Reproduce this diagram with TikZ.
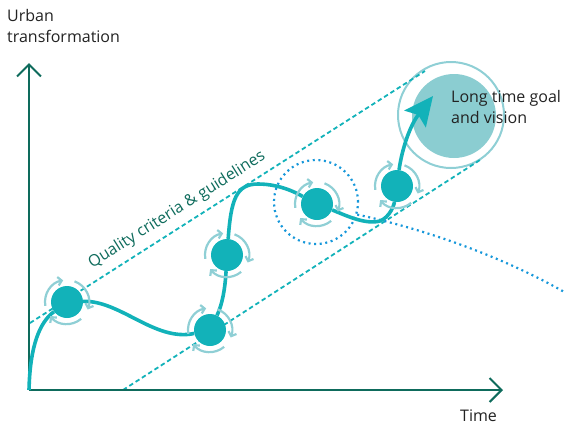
\documentclass[tikz,border=0pt]{standalone}
\usepackage{fontspec}
\setmainfont{Open Sans}
\usetikzlibrary{arrows.meta,calc}
\definecolor{axisgreen}{HTML}{0E6B5C}
\definecolor{tealmain}{HTML}{12B2B9}
\definecolor{teallight}{HTML}{8FCFD5}
\definecolor{goalfill}{HTML}{8BCDD1}
\definecolor{dotblue}{HTML}{1697DA}
\definecolor{txtgrey}{HTML}{222222}
\newcommand\cycarrows[1]{%
  \foreach \a in {190,70,-50}{%
    \draw[cycarc] ($(#1)+(-\a:22)$) arc[start angle=-\a, end angle=-\a+90, radius=22];}}
\begin{document}
\begin{tikzpicture}[x=1pt,y=-1pt,
  axisline/.style={draw=axisgreen,line width=2pt,-{Straight Barb[length=12pt,width=24pt]}},
  mainpath/.style={draw=tealmain,line width=3.6pt},
  cycarc/.style={draw=teallight,line width=2.2pt,-{Straight Barb[length=3.8pt,width=8.5pt]}},
  bandline/.style={draw=tealmain,line width=1.8pt,dash pattern=on 4.5pt off 3pt},
  dotline/.style={draw=dotblue,line width=2.2pt,dash pattern=on 2pt off 3.6pt},
  dotnode/.style={circle,fill=tealmain,minimum size=32pt,inner sep=0pt},
  lbl/.style={font=\fontsize{16}{21}\selectfont,text=txtgrey,inner sep=0pt,align=left}]
\useasboundingbox (0,0) rectangle (566,424);
% coordinates
\coordinate (o) at (29,390);
\coordinate (ytop) at (29,63);
\coordinate (xend) at (503,390);
\coordinate (ua) at (30,323);
\coordinate (ub) at (425,71);
\coordinate (la) at (123,390);
\coordinate (lb) at (480,160);
\coordinate (tip) at (433,96);
\coordinate (dotend) at (566,293);
% goal circles
\node[circle,draw=teallight,line width=2pt,minimum size=106pt,inner sep=0pt] (ring) at (451,115) {};
\node[circle,fill=goalfill,minimum size=84pt,inner sep=0pt] (goal) at (454,116) {};
% band lines
\draw[bandline] (ua) -- (ub);
\draw[bandline] (la) -- (lb);
% dotted circle and curve
\node[circle,draw=dotblue,line width=2.2pt,dash pattern=on 2pt off 3.6pt,minimum size=84pt,inner sep=0pt] (dotc) at (316,202) {};
\draw[dotline] (dotc.-17) .. controls (420,228) and (500,255) .. (dotend);
% axes
\draw[axisline] (o) -- (ytop);
\draw[axisline] (o) -- (xend);
% nodes
\node[dotnode] (n1) at (67,302) {};
\node[dotnode] (n2) at (210,330) {};
\node[dotnode] (n3) at (227,255) {};
\node[dotnode] (n4) at (317,204) {};
\node[dotnode] (n5) at (397,186) {};
% main path
\draw[mainpath] (o) .. controls (30,345) and (40,322) .. (n1);
\draw[mainpath] (n1) .. controls (120,300) and (155,342) .. (n2);
\draw[mainpath] (n2) .. controls (222,305) and (225,290) .. (n3);
\draw[mainpath] (n3) .. controls (231,200) and (236,184) .. (258,184) .. controls (282,184) and (300,195) .. (n4);
\draw[mainpath] (n4) .. controls (345,215) and (365,225) .. (380,221) .. controls (390,217) and (394,205) .. (n5);
\draw[mainpath,-{Stealth[length=29pt,width=27pt,inset=5pt]}] (n5) .. controls (401,155) and (408,128) .. (tip);
% rotation arrows
\cycarrows{n1}
\cycarrows{n2}
\cycarrows{n3}
\cycarrows{n4}
\cycarrows{n5}
% labels
\node[lbl,anchor=north west] (ylab) at (7,9.5) {Urban\\transformation};
\node[lbl,anchor=base west] (xlab) at (460,421) {Time};
\node[lbl,anchor=north west] (goallab) at (451,90.5) {Long time goal\\and vision};
\node[lbl,text=axisgreen,rotate=32.2] (qlab) at (177,210) {Quality criteria \& guidelines};
\end{tikzpicture}
\end{document}
